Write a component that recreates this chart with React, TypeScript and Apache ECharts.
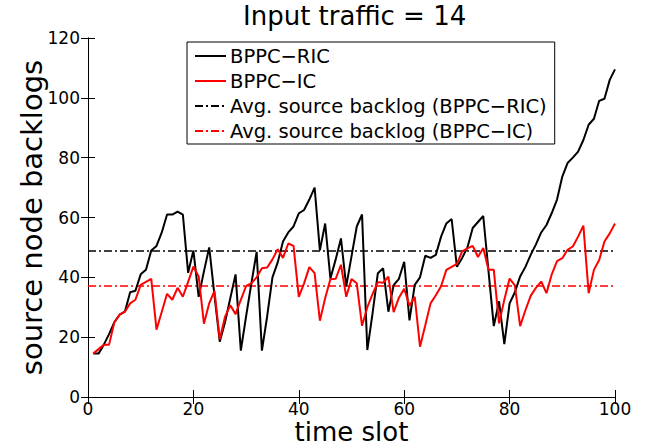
import React, { useEffect, useRef } from "react";
import * as echarts from "echarts";

const TIME_SLOTS: number[] = Array.from({ length: 100 }, (_, i) => i + 1);

const BPPC_RIC: number[] = [
  14.5, 14.5, 17.5, 21, 25, 27.5, 28.5, 35, 35.5, 41,
  42.5, 49, 50.5, 55, 61, 61, 62, 61, 41.5, 49,
  33.5, 42, 50, 34, 18.5, 25, 33, 41, 15.5, 27,
  38, 48.5, 15.5, 27, 40, 45, 52, 55, 57, 61.4,
  62.5, 66, 70, 49, 58, 39.6, 46, 53, 37, 47,
  57, 61, 15.7, 28, 41.4, 43, 28.5, 37.4, 39.5, 45.2,
  25.6, 37.5, 40, 47.2, 46.5, 47.5, 53.6, 58, 59.5, 43.5,
  46.5, 50, 56.5, 58.5, 60.5, 42, 23.7, 32, 17.7, 31.3,
  35, 40.3, 43.5, 47.5, 51, 55, 57.5, 61.5, 66, 73.7,
  78.2, 80, 82, 85.9, 91, 93, 99, 99.7, 106, 109.5,
];

const BPPC_IC: number[] = [
  14.5, 16, 17.5, 17.5, 25, 27.5, 28.5, 31.3, 32.5, 37.5,
  38.5, 39.5, 22.5, 28.5, 34.5, 32.5, 36.5, 33.5, 38.5, 43.6,
  40.3, 24.5, 31.3, 35.5, 19.3, 26.8, 30.7, 27.7, 32.5, 37.1,
  38, 40, 43, 43.3, 46, 49.4, 46.5, 51.3, 50.5, 33.5,
  38, 43.4, 41.4, 25.5, 33, 39.4, 39.5, 44.2, 33.5, 39.4,
  38, 23.8, 30, 34.5, 38.4, 38.2, 40.2, 28.4, 33.2, 36.2,
  30.5, 33.5, 16.8, 24, 31.3, 34, 37, 42.5, 43.5, 44.5,
  48.7, 49.7, 50.5, 46.8, 49.8, 42.5, 42.5, 24.6, 32.5, 39.6,
  37.3, 23.7, 29, 33.8, 36.5, 38.6, 34.7, 41, 45.4, 46.4,
  49.2, 50.3, 53.6, 57.3, 34.7, 42.5, 45.8, 52, 54.7, 58,
];

const AVG_RIC = 48.8;
const AVG_IC = 37.1;

const X_RANGE: number[] = [0, 100];
const Y_RANGE: number[] = [0, 120];

const SERIES_NAMES: string[] = [
  "BPPC\u2212RIC",
  "BPPC\u2212IC",
  "Avg. source backlog (BPPC\u2212RIC)",
  "Avg. source backlog (BPPC\u2212IC)",
];

const TITLE = "Input traffic = 14";
const X_NAME = "time slot";
const Y_NAME = "source node backlogs";

const FONT = "DejaVu Sans";
const DASH_DOT = [8, 3, 2, 3];

export default function App() {
  const ref = useRef<HTMLDivElement | null>(null);

  useEffect(() => {
    if (!ref.current) return;
    const chart = echarts.init(ref.current, null, { renderer: "svg" });

    const ric = TIME_SLOTS.map((t, i) => [t, BPPC_RIC[i]]);
    const ic = TIME_SLOTS.map((t, i) => [t, BPPC_IC[i]]);
    const avgRic = X_RANGE.map((x) => [x, AVG_RIC]);
    const avgIc = X_RANGE.map((x) => [x, AVG_IC]);

    const axisCommon = {
      axisLine: { show: true, lineStyle: { color: "#000", width: 1 } },
      axisTick: { show: true, inside: true, length: 7, lineStyle: { color: "#000", width: 1 } },
      splitLine: { show: false },
    };

    chart.setOption({
      animation: false,
      backgroundColor: "#fff",
      title: {
        text: TITLE,
        left: 238,
        top: -2,
        textStyle: { fontFamily: FONT, fontSize: 26, fontWeight: "normal", color: "#000" },
      },
      legend: {
        orient: "vertical",
        left: 187,
        top: 42,
        data: SERIES_NAMES,
        backgroundColor: "#fff",
        borderColor: "#000",
        borderWidth: 1,
        borderRadius: 0,
        padding: [4, 8, 3, 7],
        itemGap: 5,
        itemWidth: 31,
        itemHeight: 19,
        textStyle: { fontFamily: FONT, fontSize: 19.5, color: "#000", padding: [0, 0, 0, -1] },
        itemStyle: { opacity: 0 },
        lineStyle: { type: "inherit" },
      },
      grid: { left: 88, right: 30, top: 38, bottom: 51, containLabel: false, outerBoundsMode: "none" },
      xAxis: [
        {
          type: "value",
          min: X_RANGE[0],
          max: X_RANGE[1],
          interval: 20,
          position: "bottom",
          name: X_NAME,
          nameLocation: "middle",
          nameGap: 21,
          nameMoveOverlap: false,
          nameTextStyle: { fontFamily: FONT, fontSize: 26, color: "#000", lineHeight: 28 },
          axisLabel: { fontFamily: FONT, fontSize: 17, color: "#000", margin: 3 },
          ...axisCommon,
        },
        {
          type: "value",
          min: X_RANGE[0],
          max: X_RANGE[1],
          interval: 20,
          position: "top",
          axisLabel: { show: false },
          ...axisCommon,
        },
      ],
      yAxis: [
        {
          type: "value",
          min: Y_RANGE[0],
          max: Y_RANGE[1],
          interval: 20,
          position: "left",
          name: Y_NAME,
          nameLocation: "middle",
          nameGap: 42,
          nameMoveOverlap: false,
          nameTextStyle: { fontFamily: FONT, fontSize: 29, color: "#000" },
          axisLabel: { fontFamily: FONT, fontSize: 17, color: "#000", margin: 8 },
          ...axisCommon,
        },
        {
          type: "value",
          min: Y_RANGE[0],
          max: Y_RANGE[1],
          interval: 20,
          position: "right",
          axisLabel: { show: false },
          ...axisCommon,
        },
      ],
      series: [
        {
          name: SERIES_NAMES[0],
          type: "line",
          data: ric,
          symbol: "none",
          lineStyle: { color: "#000", width: 2 },
          itemStyle: { color: "#000" },
          z: 3,
        },
        {
          name: SERIES_NAMES[1],
          type: "line",
          data: ic,
          symbol: "none",
          lineStyle: { color: "#ff0000", width: 2 },
          itemStyle: { color: "#ff0000" },
          z: 4,
        },
        {
          name: SERIES_NAMES[2],
          type: "line",
          data: avgRic,
          symbol: "none",
          lineStyle: { color: "#000", width: 1.5, type: DASH_DOT },
          itemStyle: { color: "#000" },
          z: 2,
        },
        {
          name: SERIES_NAMES[3],
          type: "line",
          data: avgIc,
          symbol: "none",
          lineStyle: { color: "#ff0000", width: 1.5, type: DASH_DOT },
          itemStyle: { color: "#ff0000" },
          z: 2,
        },
      ],
    });

    return () => {
      chart.dispose();
    };
  }, []);

  return (
    <div
      ref={ref}
      style={{ position: "fixed", left: 0, top: 0, width: 645, height: 448, background: "#fff" }}
    />
  );
}
